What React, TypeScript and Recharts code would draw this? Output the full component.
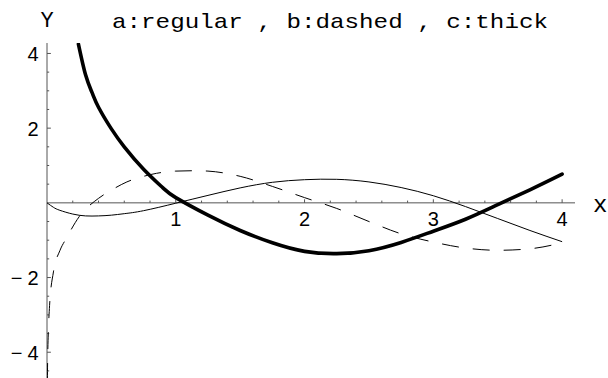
import { LineChart, Line, XAxis, YAxis, ReferenceLine, ReferenceDot } from "recharts";

// a: regular curve
const aX = [0, 0.05, 0.1, 0.2, 0.3, 0.4, 0.5, 0.6, 0.75, 1.0, 1.25, 1.5, 1.75, 2.0, 2.25, 2.5, 2.75, 3.0, 3.25, 3.5, 3.75, 4.0];
const aY = [0, -0.12, -0.2, -0.3, -0.35, -0.35, -0.33, -0.29, -0.21, -0.01, 0.2, 0.4, 0.55, 0.62, 0.63, 0.56, 0.41, 0.19, -0.1, -0.42, -0.74, -1.04];

// b: dashed curve
const bX = [0.003, 0.005, 0.01, 0.02, 0.05, 0.1, 0.15, 0.25, 0.4, 0.5, 0.62, 0.75, 0.85, 1.0, 1.15, 1.25, 1.5, 1.75, 2.0, 2.25, 2.5, 2.75, 3.0, 3.25, 3.5, 3.75, 4.0];
const bY = [-4.75, -4.2, -3.5, -2.75, -1.85, -1.28, -0.95, -0.37, 0.12, 0.34, 0.56, 0.71, 0.79, 0.85, 0.86, 0.85, 0.71, 0.44, 0.14, -0.15, -0.5, -0.83, -1.05, -1.21, -1.27, -1.23, -1.07];

// c: thick curve
const cX = [0.244, 0.3, 0.35, 0.4, 0.5, 0.6, 0.75, 0.9, 1.0, 1.25, 1.5, 1.75, 2.0, 2.25, 2.5, 2.75, 3.0, 3.25, 3.5, 3.75, 4.0];
const cY = [4.25, 3.42, 2.95, 2.56, 1.98, 1.5, 0.9, 0.4, 0.14, -0.33, -0.74, -1.07, -1.3, -1.36, -1.28, -1.06, -0.76, -0.44, -0.05, 0.35, 0.77];

const xMajor = [1, 2, 3, 4];
const xMinor = [0.2, 0.4, 0.6, 0.8, 1.2, 1.4, 1.6, 1.8, 2.2, 2.4, 2.6, 2.8, 3.2, 3.4, 3.6, 3.8];
const yMajor = [4, 2, -2, -4];
const yMinor = [3.5, 3, 2.5, 1.5, 1, 0.5, -0.5, -1, -1.5, -2.5, -3, -3.5, -4.5];
const yLabels = ["4", "2", "−2", "−4"];

const title = "a:regular , b:dashed , c:thick";

const SANS = "'Liberation Sans', Arial, sans-serif";
const MONO = "'Liberation Mono', 'Courier New', monospace";
const AXIS = "#555";

const toPoints = (xs: number[], ys: number[]) => xs.map((x, i) => ({ x, y: ys[i] }));

const textLabel = (text: string, dx: number, dy: number, anchor: string, font = SANS, size = 20) => (props: any) => {
  const vb = props.viewBox || {};
  const x = (vb.x ?? vb.cx ?? 0) + (vb.width ?? 0) / 2 + dx;
  const y = (vb.y ?? vb.cy ?? 0) + (vb.height ?? 0) / 2 + dy;
  const neg = text.startsWith("−");
  return (
    <text x={x} y={y} textAnchor={anchor} fontFamily={font} fontSize={size} fill="#000">
      {neg ? (
        <>
          <tspan>−</tspan>
          <tspan dx={5}>{text.slice(1)}</tspan>
        </>
      ) : (
        text
      )}
    </text>
  );
};

export default function App() {
  return (
    <div style={{ position: "absolute", left: 0, top: 0, width: 608, height: 378, background: "#fff" }}>
      <svg width={608} height={40} style={{ position: "absolute", left: 0, top: 0 }}>
        <text x={112} y={28} fontFamily={MONO} fontSize={21} textLength={436} lengthAdjust="spacingAndGlyphs" fill="#000" xmlSpace="preserve">
          {title}
        </text>
      </svg>
      <LineChart width={608} height={378} margin={{ top: 43, right: 33, bottom: 0, left: 47 }}>
        <XAxis type="number" dataKey="x" domain={[0, 4.1]} hide allowDataOverflow />
        <YAxis type="number" dataKey="y" domain={[-4.69, 4.28]} hide allowDataOverflow />

        <ReferenceLine y={0} stroke={AXIS} strokeWidth={1} />
        <ReferenceLine x={0} stroke={AXIS} strokeWidth={1} />
        {xMajor.map((t) => (
          <ReferenceLine key={`xM${t}`} segment={[{ x: t, y: 0 }, { x: t, y: 0.095 }]} stroke={AXIS} />
        ))}
        {xMinor.map((t) => (
          <ReferenceLine key={`xm${t}`} segment={[{ x: t, y: 0 }, { x: t, y: 0.06 }]} stroke={AXIS} />
        ))}
        {yMajor.map((t) => (
          <ReferenceLine key={`yM${t}`} segment={[{ x: 0, y: t }, { x: 0.03, y: t }]} stroke={AXIS} />
        ))}
        {yMinor.map((t) => (
          <ReferenceLine key={`ym${t}`} segment={[{ x: 0, y: t }, { x: 0.017, y: t }]} stroke={AXIS} />
        ))}
        {xMajor.map((t) => (
          <ReferenceDot key={`xl${t}`} x={t} y={0} r={0} stroke="none" fill="none" label={textLabel(String(t), 0, 23, "middle")} />
        ))}
        {yMajor.map((t, i) => (
          <ReferenceDot key={`yl${t}`} x={0} y={t} r={0} stroke="none" fill="none" label={textLabel(yLabels[i], -8.5, 7.5, "end")} />
        ))}
        <ReferenceDot x={4.1} y={0} r={0} stroke="none" fill="none" ifOverflow="visible" label={textLabel("x", 18, 9, "start", MONO, 24)} />
        <ReferenceDot x={0} y={4.28} r={0} stroke="none" fill="none" ifOverflow="visible" label={textLabel("Y", 0, -16, "middle", MONO, 22)} />

        <Line data={toPoints(aX, aY)} dataKey="y" type="natural" stroke="#000" strokeWidth={1} dot={false} isAnimationActive={false} />
        <Line data={toPoints(bX, bY)} dataKey="y" type="monotone" stroke="#000" strokeWidth={1} strokeDasharray="17 14" dot={false} isAnimationActive={false} />
        <Line data={toPoints(cX, cY)} dataKey="y" type="natural" stroke="#000" strokeWidth={3.6} strokeLinecap="round" dot={false} isAnimationActive={false} />
      </LineChart>
    </div>
  );
}
